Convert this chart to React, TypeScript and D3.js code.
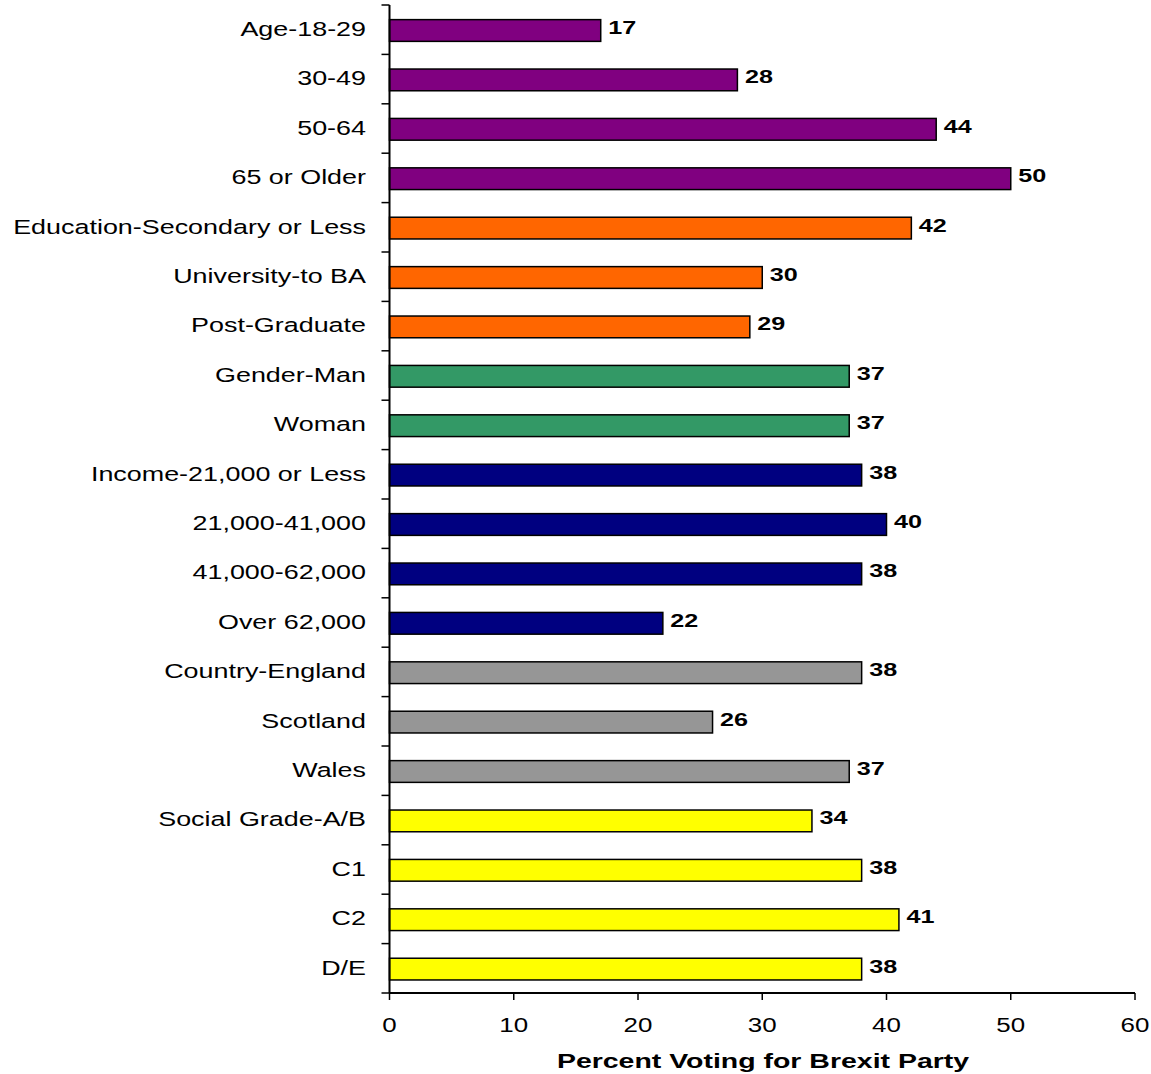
import React from "react";
import * as d3 from "d3";

const categories = [
  "Age-18-29", "30-49", "50-64", "65 or Older",
  "Education-Secondary or Less", "University-to BA", "Post-Graduate",
  "Gender-Man", "Woman",
  "Income-21,000 or Less", "21,000-41,000", "41,000-62,000", "Over 62,000",
  "Country-England", "Scotland", "Wales",
  "Social Grade-A/B", "C1", "C2", "D/E",
];
const values = [17, 28, 44, 50, 42, 30, 29, 37, 37, 38, 40, 38, 22, 38, 26, 37, 34, 38, 41, 38];
const groups = [
  "age", "age", "age", "age",
  "edu", "edu", "edu",
  "gender", "gender",
  "income", "income", "income", "income",
  "country", "country", "country",
  "grade", "grade", "grade", "grade",
];
const groupColors: Record<string, string> = {
  age: "#800080",
  edu: "#FF6600",
  gender: "#339966",
  income: "#000080",
  country: "#969696",
  grade: "#FFFF00",
};
const xTicks = [0, 10, 20, 30, 40, 50, 60];
const xTitle = "Percent Voting for Brexit Party";

function SText(props: {
  x: number; y: number; sx: number; size: number; anchor?: string; bold?: boolean; children: React.ReactNode;
}) {
  const { x, y, sx, size, anchor, bold, children } = props;
  return (
    <text
      transform={`translate(${x},${y}) scale(${sx},1)`}
      fontSize={size}
      fontWeight={bold ? "bold" : "normal"}
      textAnchor={anchor || "start"}
      fill="#000"
    >
      {children}
    </text>
  );
}

export default function App() {
  const W = 1151, H = 1074;
  const x0 = 389.5, x1 = 1135, yTop = 5, yBot = 993;
  const x = d3.scaleLinear().domain([0, 60]).range([x0, x1]);
  const y = d3.scaleBand<string>().domain(categories).range([yTop, yBot]).paddingInner(0.56).paddingOuter(0.28);
  const step = (yBot - yTop) / categories.length;
  const font = "'Liberation Sans', Arial, sans-serif";
  return (
    <svg width={W} height={H} style={{ position: "absolute", left: 0, top: 0 }} fontFamily={font}>
      <rect width={W} height={H} fill="#fff" />
      {categories.map((c, i) => (
        <g key={c}>
          <rect
            x={x(0)}
            y={y(c)! + 0.8}
            width={x(values[i]) - x(0)}
            height={y.bandwidth()}
            fill={groupColors[groups[i]]}
            stroke="#000"
            strokeWidth={1.5}
          />
          <SText x={x(values[i]) + 7.5} y={y(c)! + y.bandwidth() / 2 + 4.3} sx={1.4} size={18} bold>
            {values[i]}
          </SText>
          <SText x={366} y={yTop + step * (i + 0.5) + 6.3} sx={1.38} size={19.5} anchor="end">
            {c}
          </SText>
        </g>
      ))}
      {/* y axis */}
      <line x1={x0} x2={x0} y1={yTop} y2={yBot} stroke="#000" strokeWidth={2} />
      {d3.range(categories.length + 1).map((i) => (
        <line key={i} x1={x0 - 8} x2={x0} y1={yTop + step * i} y2={yTop + step * i} stroke="#000" strokeWidth={1.5} />
      ))}
      {/* x axis */}
      <line x1={x0} x2={x1} y1={yBot} y2={yBot} stroke="#000" strokeWidth={2} />
      {xTicks.map((t) => (
        <g key={t}>
          <line x1={x(t)} x2={x(t)} y1={yBot} y2={yBot + 7} stroke="#000" strokeWidth={1.5} />
          <SText x={x(t)} y={1032} sx={1.33} size={19.5} anchor="middle">
            {t}
          </SText>
        </g>
      ))}
      <SText x={763} y={1068} sx={1.46} size={19.5} anchor="middle" bold>
        {xTitle}
      </SText>
    </svg>
  );
}
